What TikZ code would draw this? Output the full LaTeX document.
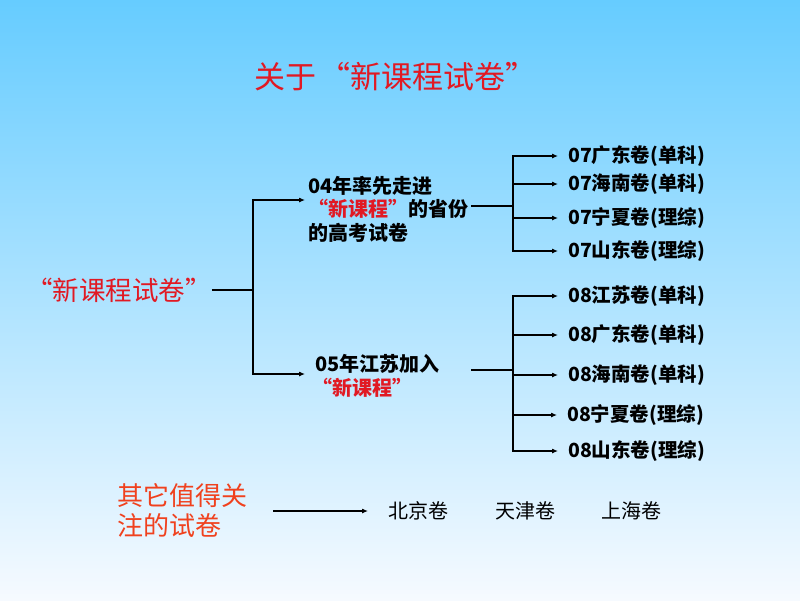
\documentclass[tikz,border=0pt]{standalone}
\usepackage{fontspec}
\setmainfont{Noto Sans CJK SC}
\usetikzlibrary{arrows.meta}
\definecolor{bgtop}{RGB}{102,204,255}
\definecolor{bgbot}{RGB}{246,250,255}
\definecolor{titlered}{RGB}{225,25,35}
\definecolor{orred}{RGB}{240,65,30}
\newcommand\fwlq{\makebox[1em][r]{“}}
\begin{document}
\begin{tikzpicture}[x=1pt,y=-1pt,
  txt/.style={inner sep=0pt,anchor=west},
  leaf/.style={txt,font=\fontsize{19.5}{22}\selectfont\bfseries},
  mid/.style={txt,align=left,font=\fontsize{20}{24}\selectfont\bfseries},
  conn/.style={line width=1.1pt,black},
  arr/.style={conn,-{Latex[length=6pt,width=5pt]}}]
\shade[top color=bgtop,bottom color=bgbot] (0,0) rectangle (800,600);
\useasboundingbox (0,0) rectangle (800,600);
% title
\node[txt,text=titlered,font=\fontsize{31}{34}\selectfont] (title) at (254,77) {关于\hspace{3pt}\fwlq 新课程试卷”};
% root
\node[txt,text=titlered,font=\fontsize{26.5}{30}\selectfont] (root) at (26,290) {“新课程试卷”\hspace{-15pt}};
\coordinate (j1) at (253,290);
% mid nodes
\node[mid] (n04) at (308,209) {04年率先走进\\[-1pt]{\textcolor{titlered}{“新课程”}}的省份\\的高考试卷};
\node[mid] (n05) at (315,376) {05年江苏加入\\\hspace*{-3pt}{\textcolor{titlered}{“新课程”}}};
\coordinate (j2) at (513,206);
\coordinate (j3) at (513,370);
% 07 leaves
\node[leaf] (a1) at (568,156) {07广东卷(单科)};
\node[leaf] (a2) at (568,184) {07海南卷(单科)};
\node[leaf] (a3) at (568,218) {07宁夏卷(理综)};
\node[leaf] (a4) at (568,251) {07山东卷(理综)};
% 08 leaves
\node[leaf] (b1) at (568,296) {08江苏卷(单科)};
\node[leaf] (b2) at (568,335) {08广东卷(单科)};
\node[leaf] (b3) at (568,375) {08海南卷(单科)};
\node[leaf] (b4) at (567,415) {08宁夏卷(理综)};
\node[leaf] (b5) at (568,451) {08山东卷(理综)};
% bottom
\node[txt,align=left,text=orred,font=\fontsize{26}{30}\selectfont] (other) at (117,510) {其它值得关\\注的试卷};
\node[txt,font=\fontsize{20}{24}\selectfont] (bj) at (388,511) {北京卷};
\node[txt,font=\fontsize{20}{24}\selectfont] (tj) at (495,511) {天津卷};
\node[txt,font=\fontsize{20}{24}\selectfont] (sh) at (601,511) {上海卷};
% connectors
\draw[conn] (root.east) -- (j1);
\draw[arr] (j1) |- ([xshift=-3pt,yshift=9pt]n04.west);
\draw[arr] (j1) |- ([xshift=-10pt,yshift=2pt]n05.west);
\draw[conn] ([xshift=3pt]n04.east |- j2) -- (j2);
\draw[conn] ([xshift=3pt]n04.east |- j3) -- (j3);
\foreach \t in {a1,a2,a3,a4}{\draw[arr] (j2) |- ([xshift=-10pt]\t.west);}
\foreach \t in {b1,b2,b3,b4,b5}{\draw[arr] (j3) |- ([xshift=-10pt]\t.west);}
\draw[arr] ([xshift=26pt]other.east |- bj.west) -- ([xshift=-20pt]bj.west);
\end{tikzpicture}
\end{document}
